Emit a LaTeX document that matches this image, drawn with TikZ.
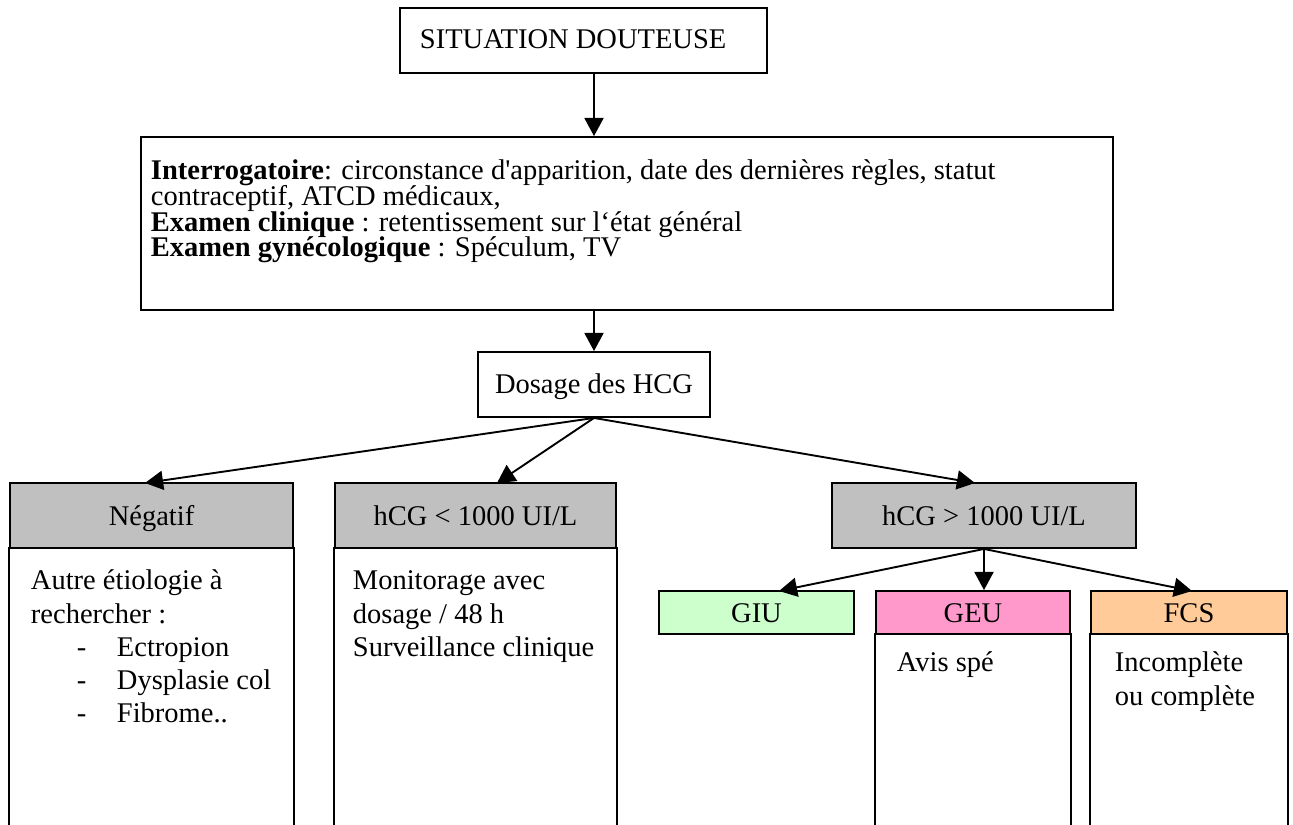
\documentclass[tikz,border=0pt]{standalone}
\usepackage{fontspec}
\setmainfont{Liberation Serif}[Ligatures=TeXOff]
\usetikzlibrary{arrows.meta,fit}
\newlength\pxu
\setlength\pxu{0.421pt}
\definecolor{hdrgray}{HTML}{C0C0C0}
\definecolor{giufill}{HTML}{CCFFCC}
\definecolor{geufill}{HTML}{FF99CC}
\definecolor{fcsfill}{HTML}{FFCC99}
\newcommand{\bodytext}[2]{\begin{minipage}[t]{#1\pxu}\raggedright\fontsize{12}{13.9}\selectfont\lineskiplimit=-\maxdimen\parindent=0pt #2\end{minipage}}
\begin{document}
\begin{tikzpicture}[x=0.421pt,y=-0.421pt,line width=0.8pt,
  box/.style={draw,inner sep=0pt},
  hdr/.style={box,fill=hdrgray},
  txt/.style={inner sep=0pt,font=\fontsize{12}{13.9}\selectfont},
  arr/.style={-{Triangle[length=7.6pt,width=8pt]}}]
\useasboundingbox (0,0) rectangle (1293,825);
% boxes
\node[box,fit={(400,8) (767,73)}] (sit) {};
\node[box,fit={(141,137) (1113,310)}] (big) {};
\node[box,fit={(478,352) (710,417)}] (dos) {};
\node[hdr,fit={(10,483) (293,548)}] (neg) {};
\node[hdr,fit={(335,483) (616,548)}] (low) {};
\node[hdr,fit={(832,483) (1136,548)}] (high) {};
\node[box,fill=giufill,fit={(659,591) (854,634)}] (giu) {};
\node[box,fill=geufill,fit={(876,591) (1070,634)}] (geu) {};
\node[box,fill=fcsfill,fit={(1091,591) (1287,634)}] (fcs) {};
% open bodies
\node[inner sep=0pt,fit={(10,548) (293,826)}] (negbody) {};
\node[inner sep=0pt,fit={(335,548) (616,826)}] (lowbody) {};
\node[inner sep=0pt,fit={(876,634) (1070,826)}] (geubody) {};
\node[inner sep=0pt,fit={(1091,634) (1287,826)}] (fcsbody) {};
\foreach \b in {negbody,lowbody,geubody,fcsbody}{
  \draw (\b.north west) -- (\b.south west);
  \draw (\b.north east) -- (\b.south east);
}
% texts
\node[txt,anchor=base west] (tsit) at (419,49) {SITUATION DOUTEUSE};
\node[inner sep=0pt,anchor=base west] (tbig) at (150,180) {\begin{minipage}[t]{950\pxu}\raggedright\fontsize{12}{10.8}\selectfont\lineskiplimit=-\maxdimen\parindent=0pt
\textbf{Interrogatoire}: circonstance d'apparition, date des dernières règles, statut\par
contraceptif, ATCD médicaux,\par
\textbf{Examen clinique} : retentissement sur l‘état général\par
\textbf{Examen gynécologique} : Spéculum, TV\end{minipage}};
\node[txt,anchor=base] (tdos) at (594,394) {Dosage des HCG};
\node[txt,anchor=base] (tneg) at (151.5,526) {Négatif};
\node[txt,anchor=base] (tlow) at (475.5,526) {hCG < 1000 UI/L};
\node[txt,anchor=base] (thigh) at (984,526) {hCG > 1000 UI/L};
\node[txt,anchor=base] (tgiu) at (756.5,623) {GIU};
\node[txt,anchor=base] (tgeu) at (973,623) {GEU};
\node[txt,anchor=base] (tfcs) at (1189,623) {FCS};
\node[inner sep=0pt,anchor=base west] (bneg) at (30,590) {\bodytext{270}{Autre étiologie à\par rechercher :\par
\hspace*{46\pxu}\makebox[40\pxu][l]{-}Ectropion\par
\hspace*{46\pxu}\makebox[40\pxu][l]{-}Dysplasie col\par
\hspace*{46\pxu}\makebox[40\pxu][l]{-}Fibrome..}};
\node[inner sep=0pt,anchor=base west] (blow) at (352,590) {\bodytext{270}{Monitorage avec\par dosage / 48 h\par Surveillance clinique}};
\node[inner sep=0pt,anchor=base west] (bgeu) at (896,672) {\bodytext{170}{Avis spé}};
\node[inner sep=0pt,anchor=base west] (bfcs) at (1114,672) {\bodytext{170}{Incomplète\par ou complète}};
% arrow tips
\coordinate (pneg) at (145,483);
\coordinate (plow) at (497,483);
\coordinate (phigh) at (975,483);
\coordinate (pgiu) at (779,591);
\coordinate (pfcs) at (1192,591);
% connectors
\draw[arr] (sit.south -| dos.north) -- (big.north -| dos.north);
\draw[arr] (big.south -| dos.north) -- (dos.north);
\draw[arr] (dos.south) -- (pneg);
\draw[arr] (dos.south) -- (plow);
\draw[arr] (dos.south) -- (phigh);
\draw[arr] (high.south) -- (pgiu);
\draw[arr] (high.south) -- (geu.north -| high.south);
\draw[arr] (high.south) -- (pfcs);
\end{tikzpicture}
\end{document}
